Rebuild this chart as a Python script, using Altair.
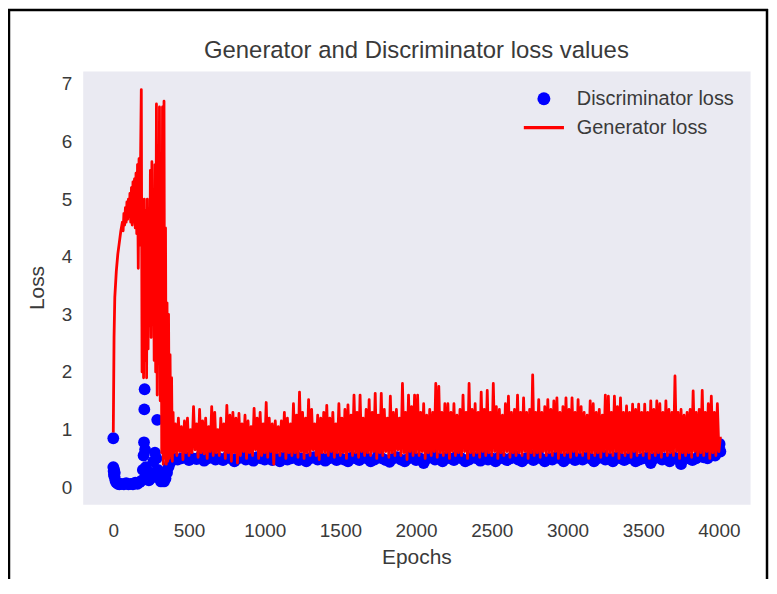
import altair as alt
import pandas as pd

# ---------------- text / styling data ----------------
title_text = "Generator and Discriminator loss values"
x_title = "Epochs"
y_title = "Loss"
series_names = ["Discriminator loss", "Generator loss"]
series_colors = ["#0000FF", "#FF0000"]
x_ticks = [0, 500, 1000, 1500, 2000, 2500, 3000, 3500, 4000]
y_ticks = [0, 1, 2, 3, 4, 5, 6, 7]

# ---------------- discriminator loss (blue dots) ----------------
disc_early_epochs = [0, 0, 2, 4, 6, 8, 10, 14, 20, 30, 40, 55, 70, 85, 100, 115, 130, 145,
                     160, 175, 190, 195, 200, 203, 205, 207, 210, 215, 225, 235, 245, 255,
                     265, 275, 285, 290, 295, 305, 315, 325, 335, 345, 355, 365, 375, 385, 395]
disc_early_values = [0.85, 0.35, 0.28, 0.22, 0.3, 0.18, 0.25, 0.12, 0.08, 0.06, 0.05, 0.06, 0.05,
                     0.07, 0.05, 0.06, 0.05, 0.08, 0.06, 0.09, 0.12, 0.3, 0.55, 0.78, 1.35, 1.7,
                     0.65, 0.35, 0.2, 0.12, 0.15, 0.25, 0.45, 0.6, 0.5, 1.17, 0.3, 0.15, 0.1,
                     0.12, 0.1, 0.15, 0.25, 0.35, 0.42, 0.48, 0.5]
# sampled every 25 epochs from epoch 400
disc_late_values = [
    0.5, 0.48, 0.5, 0.52, 0.47, 0.5, 0.49, 0.53, 0.46, 0.5,
    0.55, 0.48, 0.5, 0.47, 0.52, 0.5, 0.45, 0.5, 0.55, 0.48,
    0.5, 0.46, 0.52, 0.5, 0.48, 0.6, 0.47, 0.5, 0.45, 0.52,
    0.48, 0.5, 0.55, 0.47, 0.5, 0.45, 0.5, 0.52, 0.48, 0.5,
    0.46, 0.5, 0.58, 0.47, 0.5, 0.48, 0.45, 0.52, 0.5, 0.47,
    0.55, 0.5, 0.45, 0.48, 0.6, 0.5, 0.47, 0.44, 0.5, 0.52,
    0.48, 0.45, 0.5, 0.55, 0.47, 0.5, 0.42, 0.5, 0.6, 0.48,
    0.5, 0.45, 0.52, 0.5, 0.47, 0.55, 0.5, 0.45, 0.48, 0.52,
    0.5, 0.46, 0.6, 0.48, 0.5, 0.45, 0.52, 0.5, 0.47, 0.5,
    0.55, 0.48, 0.45, 0.5, 0.52, 0.47, 0.6, 0.5, 0.45, 0.5,
    0.48, 0.52, 0.5, 0.45, 0.5, 0.55, 0.47, 0.5, 0.48, 0.52,
    0.5, 0.45, 0.5, 0.58, 0.48, 0.5, 0.45, 0.52, 0.5, 0.47,
    0.5, 0.55, 0.45, 0.48, 0.5, 0.52, 0.42, 0.5, 0.55, 0.48,
    0.5, 0.45, 0.52, 0.5, 0.4, 0.55, 0.5, 0.47, 0.5, 0.6,
    0.52, 0.5, 0.6, 0.55, 0.7,
]
disc_tail_epochs = [4005, 4010]
disc_tail_values = [0.75, 0.62]

# ---------------- generator loss (red line) ----------------
gen_early_epochs = [0, 5, 10, 20, 30, 40, 50, 60, 65, 70, 75, 80, 85, 90, 95, 100, 105, 110,
                    115, 120, 125, 130, 135, 140, 145, 150, 155, 160, 165, 170, 175, 180, 185,
                    190, 195, 200, 205, 210, 215, 220, 225, 230, 235, 240, 245, 250, 255, 260,
                    265, 270, 275, 280, 285, 290, 295, 300, 305, 310, 315, 320, 325, 330, 335,
                    340, 345, 350, 355, 360, 365, 370, 375, 380, 385, 390, 395]
gen_early_values = [0.95, 2.6, 3.3, 3.75, 4.05, 4.25, 4.45, 4.6, 4.45, 4.75, 4.55, 4.85, 4.6,
                    4.95, 4.65, 5.0, 4.7, 5.1, 4.6, 5.2, 4.55, 5.3, 4.6, 5.35, 4.5, 5.45, 4.4,
                    5.6, 3.8, 5.7, 4.2, 5.65, 6.9, 2.0, 4.9, 1.9, 5.0, 2.2, 4.8, 1.9, 5.0, 2.4,
                    4.6, 2.8, 5.5, 2.6, 5.65, 3.0, 5.0, 2.2, 5.6, 2.0, 6.65, 1.6, 4.9, 2.3, 6.6,
                    1.5, 5.6, 0.6, 6.6, 0.4, 6.7, 0.5, 4.5, 0.4, 3.2, 0.45, 3.0, 0.5, 2.3, 0.55,
                    1.9, 0.45, 1.3]
# sampled every 10 epochs from epoch 400
gen_late_values = [
    0.6, 1.1, 0.55, 1.2, 0.62, 1.05, 0.48, 1.15, 0.6, 1.2,
    0.55, 1.0, 0.6, 1.4, 0.65, 1.1, 0.52, 1.35, 0.6, 1.15,
    0.58, 1.2, 0.5, 1.05, 0.62, 1.4, 0.55, 1.3, 0.6, 1.0,
    0.55, 1.2, 0.64, 1.1, 0.5, 1.42, 0.6, 1.25, 0.45, 1.3,
    0.6, 1.2, 0.42, 1.28, 0.55, 1.1, 0.62, 1.25, 0.5, 1.15,
    0.6, 1.05, 0.55, 1.37, 0.65, 1.2, 0.5, 1.3, 0.55, 1.1,
    0.6, 1.47, 0.52, 1.2, 0.62, 1.1, 0.4, 1.15, 0.6, 1.05,
    0.55, 1.15, 0.62, 1.3, 0.5, 1.2, 0.6, 1.1, 0.55, 1.45,
    0.6, 1.25, 0.52, 1.65, 0.62, 1.3, 0.5, 1.2, 0.6, 1.52,
    0.55, 1.35, 0.65, 1.1, 0.55, 1.25, 0.48, 1.2, 0.6, 1.3,
    0.6, 1.42, 0.55, 1.2, 0.62, 1.3, 0.52, 1.1, 0.6, 1.45,
    0.55, 1.2, 0.6, 1.35, 0.5, 1.43, 0.62, 1.25, 0.55, 1.6,
    0.6, 1.3, 0.52, 1.6, 0.62, 1.2, 0.55, 1.35, 0.6, 1.52,
    0.55, 1.3, 0.62, 1.63, 0.5, 1.25, 0.6, 1.63, 0.55, 1.35,
    0.62, 1.2, 0.52, 1.58, 0.6, 1.3, 0.55, 1.35, 0.65, 1.2,
    0.55, 1.8, 0.6, 1.3, 0.48, 1.6, 0.62, 1.4, 0.55, 1.6,
    0.6, 1.6, 0.55, 1.3, 0.62, 1.45, 0.5, 1.25, 0.6, 1.35,
    0.55, 1.3, 0.62, 1.8, 0.52, 1.75, 0.6, 1.3, 0.55, 1.45,
    0.6, 1.45, 0.5, 1.3, 0.62, 1.45, 0.55, 1.25, 0.6, 1.35,
    0.55, 1.6, 0.62, 1.3, 0.5, 1.8, 0.6, 1.35, 0.55, 1.45,
    0.6, 1.3, 0.52, 1.65, 0.62, 1.35, 0.55, 1.68, 0.6, 1.3,
    0.55, 1.8, 0.62, 1.4, 0.5, 1.35, 0.6, 1.25, 0.55, 1.45,
    0.62, 1.58, 0.52, 1.3, 0.6, 1.35, 0.55, 1.6, 0.6, 1.3,
    0.55, 1.55, 0.62, 1.3, 0.5, 1.35, 0.6, 1.95, 0.55, 1.3,
    0.6, 1.52, 0.52, 1.3, 0.62, 1.4, 0.55, 1.52, 0.6, 1.35,
    0.55, 1.5, 0.62, 1.55, 0.5, 1.3, 0.6, 1.4, 0.55, 1.55,
    0.6, 1.35, 0.52, 1.55, 0.62, 1.3, 0.55, 1.52, 0.6, 1.4,
    0.55, 1.3, 0.62, 1.25, 0.5, 1.5, 0.6, 1.45, 0.55, 1.3,
    0.6, 1.35, 0.52, 1.25, 0.62, 1.6, 0.55, 1.58, 0.6, 1.3,
    0.55, 1.58, 0.62, 1.4, 0.5, 1.55, 0.6, 1.3, 0.55, 1.41,
    0.6, 1.3, 0.52, 1.44, 0.62, 1.35, 0.55, 1.44, 0.6, 1.3,
    0.55, 1.44, 0.62, 1.3, 0.5, 1.5, 0.6, 1.35, 0.55, 1.5,
    0.6, 1.45, 0.52, 1.3, 0.62, 1.5, 0.55, 1.35, 0.6, 1.3,
    0.55, 1.93, 0.62, 1.3, 0.5, 1.35, 0.6, 1.25, 0.55, 1.3,
    0.6, 1.35, 0.52, 1.67, 0.62, 1.3, 0.55, 1.35, 0.6, 1.68,
    0.55, 1.3, 0.62, 1.45, 0.5, 1.58, 0.6, 1.3, 0.55, 1.45,
    0.62, 0.88,
]

# ---------------- tables ----------------
disc_epochs = (disc_early_epochs
               + [400 + 25 * i for i in range(len(disc_late_values))]
               + disc_tail_epochs)
disc_values = disc_early_values + disc_late_values + disc_tail_values
disc_df = pd.DataFrame({"epoch": disc_epochs, "loss": disc_values,
                        "series": series_names[0]})

gen_epochs = gen_early_epochs + [400 + 10 * i for i in range(len(gen_late_values))]
gen_values = gen_early_values + gen_late_values
gen_df = pd.DataFrame({"epoch": gen_epochs, "loss": gen_values, "series": series_names[1]})

FONT = "Liberation Sans"
TXT = "#3a3a3a"

x_scale = alt.Scale(domain=[-202, 4206], nice=False, zero=False)
y_scale = alt.Scale(domain=[-0.294, 7.225], nice=False, zero=False)

legend_line_path = "M-3.1,-0.24L3.1,-0.24L3.1,0.24L-3.1,0.24Z"
legend_kw = dict(title=None, orient="none", legendX=453, legendY=18, padding=0,
                 labelFont=FONT, labelFontSize=20, labelColor=TXT, labelOffset=23,
                 symbolSize=169, symbolStrokeWidth=0, symbolOpacity=1, rowPadding=9)

points = alt.Chart(disc_df).mark_point(filled=True, opacity=1, size=140, strokeWidth=0).encode(
    x=alt.X("epoch:Q", scale=x_scale,
            axis=alt.Axis(values=x_ticks, format="d", title=x_title,
                          labelPadding=17, titlePadding=7)),
    y=alt.Y("loss:Q", scale=y_scale,
            axis=alt.Axis(values=y_ticks, format="d", title=y_title,
                          labelPadding=11, titlePadding=14)),
    color=alt.Color("series:N", scale=alt.Scale(domain=series_names, range=series_colors),
                    legend=alt.Legend(**legend_kw)),
    shape=alt.Shape("series:N", scale=alt.Scale(domain=series_names,
                                                range=["circle", legend_line_path]),
                    legend=alt.Legend(**legend_kw)),
)

line = alt.Chart(gen_df).mark_line(color=series_colors[1], strokeWidth=2.8,
                                   strokeJoin="round").encode(
    x=alt.X("epoch:Q", scale=x_scale),
    y=alt.Y("loss:Q", scale=y_scale),
)

frame_df = pd.DataFrame({"k": [0]})
frame_left = alt.Chart(frame_df).mark_rule(color="black", strokeWidth=2.5).encode(
    x=alt.value(-74), y=alt.value(-62), y2=alt.value(510))
frame_top = alt.Chart(frame_df).mark_rule(color="black", strokeWidth=2.5).encode(
    x=alt.value(-75), x2=alt.value(688), y=alt.value(-61))
frame_right = alt.Chart(frame_df).mark_rule(color="black", strokeWidth=2.5).encode(
    x=alt.value(687), y=alt.value(-62), y2=alt.value(510))

chart = alt.layer(points, line, frame_left, frame_top, frame_right).properties(
    width=670,
    height=435,
    padding={"left": 75, "top": 62, "right": 19, "bottom": 75},
    autosize=alt.AutoSizeParams(type="none"),
    background="white",
    title=alt.TitleParams(text=title_text, font=FONT, fontSize=24, fontWeight="normal",
                          color=TXT, anchor="middle", offset=13, baseline="alphabetic",
                          dy=87),
).configure_view(
    fill="#EAEAF2", stroke="transparent"
).configure_axis(
    grid=False, domain=False, ticks=False,
    labelFont=FONT, labelFontSize=19, labelColor=TXT,
    titleFont=FONT, titleFontSize=21, titleFontWeight="normal", titleColor=TXT,
)

chart.save("out.html", embed_options={"renderer": "svg", "actions": False})
